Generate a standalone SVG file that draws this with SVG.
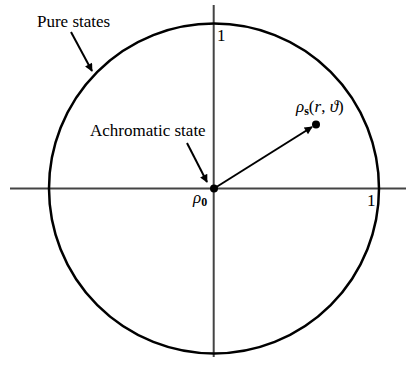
<svg xmlns="http://www.w3.org/2000/svg" width="408" height="372" viewBox="0 0 408 372">
<defs>
<marker id="ah" viewBox="0 0 10 10" refX="9" refY="5" markerWidth="10" markerHeight="8" markerUnits="userSpaceOnUse" orient="auto"><path d="M0,0 L10,5 L0,10 Z" fill="#000"/></marker>
<style>
.t{font-family:"Liberation Serif","DejaVu Serif",serif;font-size:17px;fill:#000}
.m{font-family:"Liberation Serif","DejaVu Serif",serif;font-size:17px;font-style:italic;fill:#000}
.ax{stroke:#444;stroke-width:2;fill:none}
.ar{stroke:#000;stroke-width:2;fill:none;marker-end:url(#ah)}
</style>
</defs>
<g id="axes">
<line class="ax" x1="10" y1="188.5" x2="406" y2="188.5"/>
<line class="ax" x1="213.7" y1="5" x2="213.7" y2="357"/>
</g>
<g id="circle"><circle cx="214" cy="188.5" r="165" fill="none" stroke="#000" stroke-width="2.5"/></g>
<g id="origin"><circle cx="214" cy="188.5" r="4" fill="#000"/><text class="m" x="193" y="203">ρ<tspan font-style="normal" font-weight="bold" font-size="12" dy="3">0</tspan></text></g>
<g id="state"><circle cx="316" cy="124.5" r="4" fill="#000"/><text class="m" x="296" y="112">ρ<tspan font-style="normal" font-weight="bold" font-size="12" dy="3">s</tspan><tspan dy="-3" font-style="normal">(</tspan>r<tspan font-style="normal">, </tspan>ϑ<tspan font-style="normal">)</tspan></text></g>
<g id="labels">
<text class="t" x="217" y="41">1</text>
<text class="t" x="367" y="206">1</text>
<text class="t" x="37" y="27">Pure states</text>
<text class="t" x="90" y="136">Achromatic state</text>
</g>
<g id="connectors">
<line class="ar" x1="214" y1="188.5" x2="312" y2="127"/>
<line class="ar" x1="71" y1="32" x2="92" y2="71"/>
<line class="ar" x1="187" y1="143" x2="207" y2="182"/>
</g>
</svg>
